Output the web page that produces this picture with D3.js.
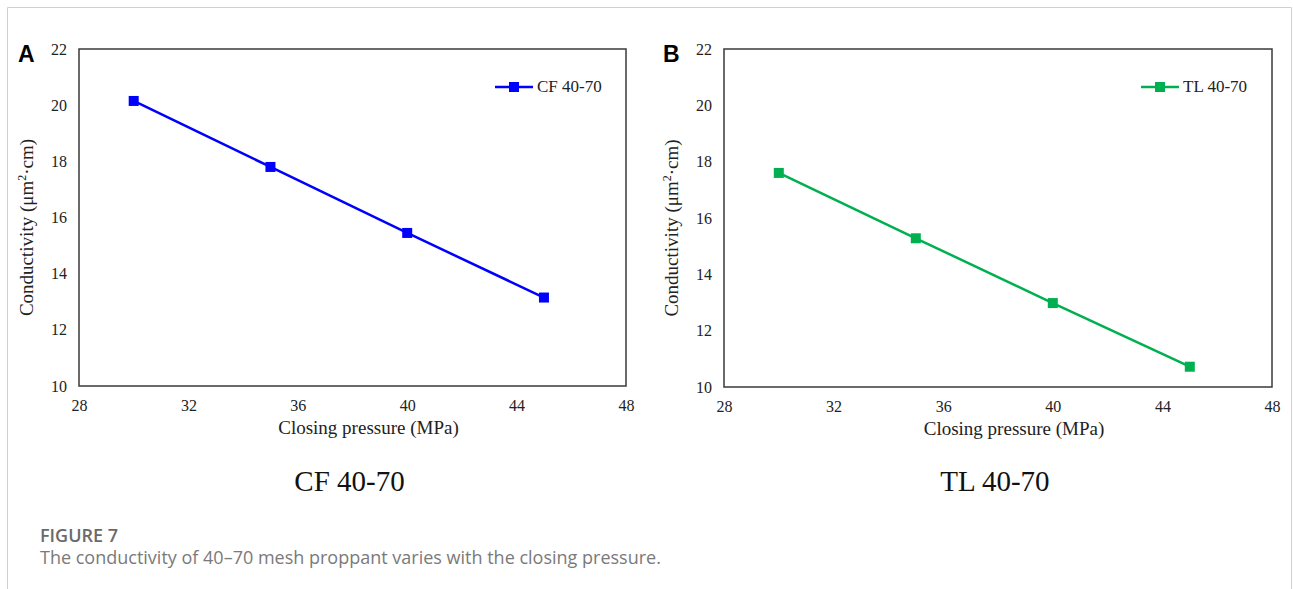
<!DOCTYPE html>
<html>
<head>
<meta charset="utf-8">
<script src="https://cdn.jsdelivr.net/npm/d3@7"></script>
<style>
  body { margin: 0; background: #fff; }
  svg { display: block; }
</style>
</head>
<body>
<svg id="chart" width="1293" height="589"></svg>
<script>
// data
const pressure = [30, 35, 40, 45];
const cfValues = [20.15, 17.8, 15.45, 13.15];
const tlValues = [17.6, 15.28, 12.98, 10.72];
const xTicks = [28, 32, 36, 40, 44, 48];
const yTicks = [10, 12, 14, 16, 18, 20, 22];

const panels = [
  { letter: "A", name: "CF 40-70", values: cfValues, color: "#0000ff", left: 79, right: 626, top: 49, bottom: 386 },
  { letter: "B", name: "TL 40-70", values: tlValues, color: "#00b050", left: 724, right: 1272, top: 49, bottom: 387 }
];

const svg = d3.select("#chart");
const serif = "'Liberation Serif', 'Times New Roman', serif";

// outer frame
svg.append("path")
  .attr("d", "M7.5,589 V7.5 H1291.5 V589")
  .attr("fill", "none")
  .attr("stroke", "#d0d0d0")
  .attr("stroke-width", 1);

panels.forEach(p => {
  const x = d3.scaleLinear().domain([28, 48]).range([p.left, p.right]);
  const y = d3.scaleLinear().domain([10, 22]).range([p.bottom, p.top]);
  const g = svg.append("g");

  // plot box
  g.append("rect")
    .attr("x", p.left).attr("y", p.top)
    .attr("width", p.right - p.left).attr("height", p.bottom - p.top)
    .attr("fill", "none").attr("stroke", "#3a3a3a").attr("stroke-width", 1.5);

  // axes (labels only, no tick marks)
  const xAxis = g.append("g").attr("transform", `translate(0,${p.bottom + 14})`)
    .call(d3.axisBottom(x).tickValues(xTicks).tickSize(0).tickPadding(0));
  const yAxis = g.append("g").attr("transform", `translate(${p.left - 12},0)`)
    .call(d3.axisLeft(y).tickValues(yTicks).tickSize(0).tickPadding(0));
  [xAxis, yAxis].forEach(a => {
    a.select(".domain").remove();
    a.selectAll("text").attr("font-family", serif).attr("font-size", 16).attr("fill", "#222");
  });

  // axis titles
  g.append("text")
    .attr("x", (p.left + p.right) / 2 + 16).attr("y", p.bottom + 48)
    .attr("text-anchor", "middle")
    .attr("font-family", serif).attr("font-size", 19).attr("fill", "#222")
    .text("Closing pressure (MPa)");

  const yt = g.append("text")
    .attr("transform", `translate(${p.left - 46},${(p.top + p.bottom) / 2 + 10}) rotate(-90)`)
    .attr("text-anchor", "middle")
    .attr("font-family", serif).attr("font-size", 19).attr("fill", "#222");
  yt.append("tspan").text("Conductivity (μm");
  yt.append("tspan").attr("font-size", 12).attr("dy", -7).text("2");
  yt.append("tspan").attr("dy", 7).text("·cm)");

  // panel letter
  g.append("text")
    .attr("x", p.left - 61).attr("y", p.top + 13)
    .attr("font-family", "'Liberation Sans', Arial, sans-serif")
    .attr("font-weight", "bold").attr("font-size", 23).attr("fill", "#000")
    .text(p.letter);

  // series line and markers
  const pts = pressure.map((v, i) => [v, p.values[i]]);
  g.append("path")
    .datum(pts)
    .attr("fill", "none").attr("stroke", p.color).attr("stroke-width", 2.5)
    .attr("d", d3.line().x(d => x(d[0])).y(d => y(d[1])));
  g.selectAll(".mk").data(pts).enter().append("rect")
    .attr("class", "mk")
    .attr("x", d => x(d[0]) - 5).attr("y", d => y(d[1]) - 5)
    .attr("width", 10).attr("height", 10)
    .attr("fill", p.color);

  // legend
  const ly = p.top + 38;
  g.append("line")
    .attr("x1", p.right - 131).attr("x2", p.right - 93)
    .attr("y1", ly).attr("y2", ly)
    .attr("stroke", p.color).attr("stroke-width", 2.5);
  g.append("rect")
    .attr("x", p.right - 117).attr("y", ly - 5)
    .attr("width", 10).attr("height", 10).attr("fill", p.color);
  g.append("text")
    .attr("x", p.right - 89).attr("y", ly + 5)
    .attr("font-family", serif).attr("font-size", 17).attr("fill", "#222")
    .text(p.name);

  // sub caption
  g.append("text")
    .attr("x", (p.left + p.right) / 2 - 3).attr("y", 491)
    .attr("text-anchor", "middle")
    .attr("font-family", serif).attr("font-size", 29).attr("fill", "#111")
    .text(p.name);
});

// figure caption
svg.append("text")
  .attr("x", 40).attr("y", 542)
  .attr("font-family", "'Open Sans', 'Noto Sans', sans-serif")
  .attr("font-weight", 600).attr("font-size", 18).attr("fill", "#6a6a6a")
  .text("FIGURE 7");
svg.append("text")
  .attr("x", 40).attr("y", 564)
  .attr("font-family", "'Open Sans', 'Noto Sans', sans-serif")
  .attr("font-size", 18).attr("fill", "#7a7a7a")
  .text("The conductivity of 40\u201370 mesh proppant varies with the closing pressure.");
</script>
</body>
</html>
